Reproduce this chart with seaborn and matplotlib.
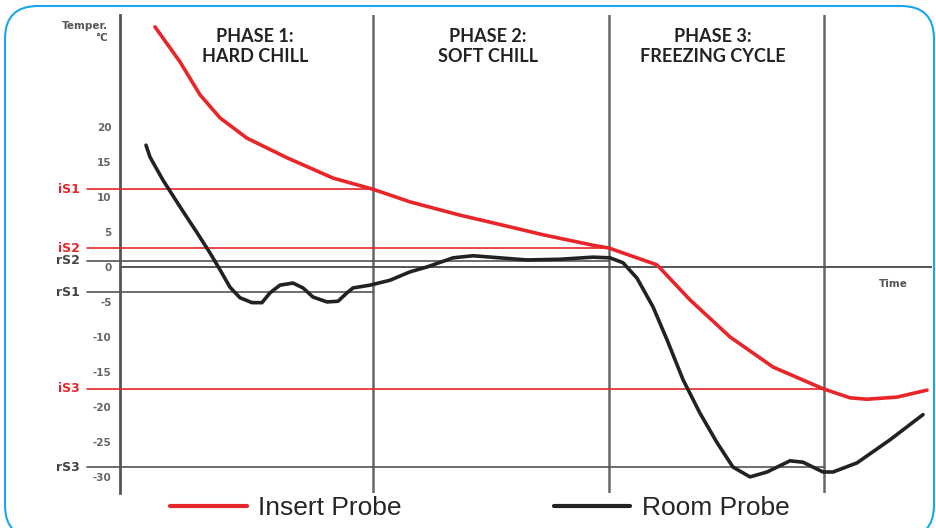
import seaborn as sns
import matplotlib.pyplot as plt
import pandas as pd
from matplotlib.patches import FancyBboxPatch

# time (arbitrary units) and temperature (°C)
insert_t = [35, 60, 80, 100, 127, 167, 213, 253, 290, 340, 373, 423, 473, 489, 503, 537,
            570, 610, 653, 703, 730, 747, 777, 807]
insert_temp = [34.3, 29.3, 24.6, 21.3, 18.4, 15.6, 12.7, 11.1, 9.3, 7.4, 6.3, 4.6, 3.1, 2.7,
               2.0, 0.3, -4.7, -10.0, -14.3, -17.4, -18.7, -18.9, -18.6, -17.6]

room_t = [26, 30, 43, 60, 77, 90, 100, 110, 120, 132, 142, 150, 160, 173, 183, 193, 207, 218,
          227, 233, 250, 270, 290, 307, 333, 353, 380, 407, 440, 473, 490, 503, 517, 533, 547,
          563, 580, 597, 613, 630, 647, 670, 683, 703, 713, 737, 770, 803]
room_temp = [17.4, 15.7, 12.4, 8.6, 4.9, 2.0, -0.4, -2.9, -4.4, -5.1, -5.1, -3.7, -2.6, -2.3,
             -3.0, -4.3, -5.0, -4.9, -3.7, -3.0, -2.6, -1.9, -0.7, 0.0, 1.3, 1.6, 1.3, 1.0, 1.1,
             1.4, 1.3, 0.6, -1.6, -5.7, -10.4, -16.1, -20.9, -25.1, -28.6, -30.0, -29.3, -27.7,
             -27.9, -29.3, -29.3, -28.0, -24.7, -21.1]

phase_ends = [253, 489, 704]
phase_labels = ["PHASE 1:\nHARD CHILL", "PHASE 2:\nSOFT CHILL", "PHASE 3:\nFREEZING CYCLE"]
phase_centers = [135, 368, 593]

# set points: name, value, end time, kind
set_names = ["iS1", "iS2", "rS2", "rS1", "iS3", "rS3"]
set_values = [11.1, 2.7, 0.9, -3.6, -17.4, -28.6]
set_ends = [253, 489, 489, 253, 704, 704]
set_kind = ["insert", "insert", "room", "room", "insert", "room"]

yticks = [20, 15, 10, 5, 0, -5, -10, -15, -20, -25, -30]

RED = "#e8262a"
DARK = "#222222"
GREY = "#555555"

sns.set_style("white")
plt.rcParams["axes.unicode_minus"] = False

fig = plt.figure(figsize=(9.37, 5.28), dpi=100)
ax = fig.add_axes([120 / 937, 35 / 528, 812 / 937, 478 / 528])
ax.set_xlim(0, 812)
ax.set_ylim(-32.3, 36)

df = pd.concat([
    pd.DataFrame({"time": insert_t, "temp": insert_temp, "probe": "Insert Probe"}),
    pd.DataFrame({"time": room_t, "temp": room_temp, "probe": "Room Probe"}),
])
sns.lineplot(data=df, x="time", y="temp", hue="probe", sort=False, estimator=None,
             palette={"Insert Probe": RED, "Room Probe": DARK}, linewidth=2.6, ax=ax,
             zorder=5)

# time axis at zero
ax.plot([0, 812], [0, 0], color=GREY, lw=1.4, zorder=3)

# phase separators
for x in phase_ends:
    ax.plot([x, x], [-32.3, 36], color="#666666", lw=1.8, zorder=2)
for cx, lab in zip(phase_centers, phase_labels):
    ax.text(cx, 31.5, lab, ha="center", va="center", fontsize=13, fontweight="bold",
            color="#222222", family="Lato", linespacing=1.15)

# set point lines
for name, val, end, kind in zip(set_names, set_values, set_ends, set_kind):
    col = RED if kind == "insert" else GREY
    ax.plot([-33, end], [val, val], color=col, lw=1.2, clip_on=False, zorder=3)
    ax.text(-40, val, name, ha="right", va="center", fontsize=9, fontweight="bold",
            color=col if kind == "insert" else "#444444")

ax.set_yticks(yticks)
ax.set_yticklabels([str(v) for v in yticks])
ax.set_xticks([])
ax.tick_params(axis="y", direction="in", length=5, width=1.2, color=GREY, pad=6,
               labelsize=7.5, labelcolor="#666666")
for lab in ax.get_yticklabels():
    lab.set_fontweight("bold")
for s in ["top", "right", "bottom"]:
    ax.spines[s].set_visible(False)
ax.spines["left"].set_color(GREY)
ax.spines["left"].set_linewidth(2.0)
ax.set_xlabel("")
ax.set_ylabel("")

ax.text(-12, 35.2, "Temper.\n°C", ha="right", va="top", fontsize=7.5, fontweight="bold",
        color="#555555", linespacing=1.3)
ax.text(773, -2.4, "Time", ha="center", va="center", fontsize=7.5, fontweight="bold",
        color="#555555")

handles, labels = ax.get_legend_handles_labels()
ax.get_legend().remove()
leg = fig.legend(handles, labels, loc="center left", bbox_to_anchor=(170 / 937, 20 / 528),
                 ncol=2, frameon=False, handlelength=2.9, handletextpad=0.45,
                 columnspacing=5.75, borderpad=0, borderaxespad=0,
                 prop={"family": "Liberation Sans", "size": 19})
for line in leg.get_lines():
    line.set_linewidth(3)

# rounded frame
frame = FancyBboxPatch((5 / 937, -10 / 528), 929 / 937, 532 / 528,
                       boxstyle="round,pad=0,rounding_size=0.035", transform=fig.transFigure,
                       fill=False, edgecolor="#1aa6ea", lw=1.5, mutation_aspect=937 / 528)
fig.patches.append(frame)

fig.savefig("out.png", dpi=100)
